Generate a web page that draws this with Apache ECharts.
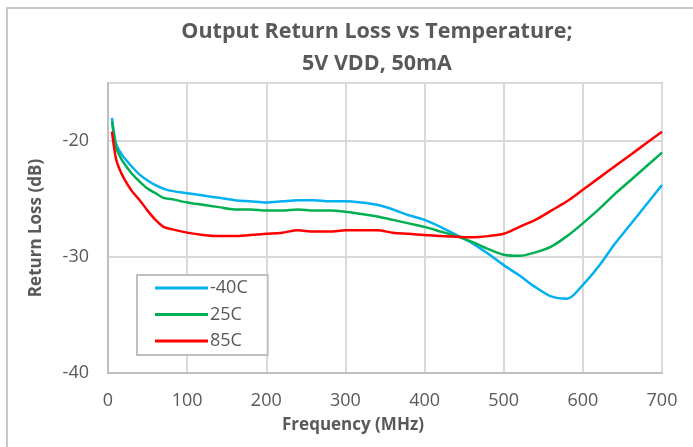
<!DOCTYPE html>
<html>
<head>
<meta charset="utf-8">
<script src="https://cdn.jsdelivr.net/npm/echarts@6/dist/echarts.min.js"></script>
<style>
  html, body { margin: 0; padding: 0; background: #fff; }
  #chart { width: 693px; height: 447px; }
</style>
</head>
<body>
<div id="chart"></div>
<script>
// Frequency sweep points (MHz)
const freqMHz = [5, 10, 15, 20, 30, 40, 50, 60, 70, 80, 100, 120, 140, 160, 180, 200,
  220, 240, 260, 280, 300, 320, 340, 360, 380, 400, 420, 440, 460, 480, 500,
  520, 540, 560, 580, 600, 620, 640, 660, 680, 700];

// Output return loss (dB) per temperature
const rlMinus40C = [-18.0, -20.2, -20.9, -21.4, -22.2, -22.9, -23.4, -23.8, -24.1, -24.3, -24.5,
  -24.7, -24.9, -25.1, -25.2, -25.3, -25.2, -25.1, -25.1, -25.2, -25.2,
  -25.3, -25.5, -25.9, -26.4, -26.8, -27.4, -28.1, -28.8, -29.7, -30.7,
  -31.6, -32.6, -33.4, -33.6, -32.4, -30.8, -28.9, -27.2, -25.5, -23.8];
const rl25C = [-18.3, -20.5, -21.3, -21.9, -22.8, -23.5, -24.1, -24.5, -24.9, -25.0, -25.3,
  -25.5, -25.7, -25.9, -25.9, -26.0, -26.0, -25.9, -26.0, -26.0, -26.1,
  -26.3, -26.5, -26.8, -27.1, -27.4, -27.8, -28.2, -28.7, -29.3, -29.8,
  -29.9, -29.6, -29.1, -28.2, -27.1, -25.9, -24.6, -23.4, -22.2, -21.0];
const rl85C = [-19.2, -21.5, -22.5, -23.2, -24.3, -25.1, -26.0, -26.8, -27.4, -27.6, -27.9,
  -28.1, -28.2, -28.2, -28.1, -28.0, -27.9, -27.7, -27.8, -27.8, -27.7,
  -27.7, -27.7, -27.9, -28.0, -28.1, -28.2, -28.25, -28.3, -28.2, -28.0,
  -27.4, -26.8, -26.0, -25.2, -24.2, -23.2, -22.2, -21.2, -20.2, -19.2];

const seriesNames = ['-40C', '25C', '85C'];
const seriesColors = ['#00b0f0', '#00b050', '#ff0000'];
const seriesValues = [rlMinus40C, rl25C, rl85C];

const titleLines = ['Output Return Loss vs Temperature;', '5V VDD, 50mA'];

const FONT = '"Open Sans", "Liberation Sans", sans-serif';
const GREY = '#595959';

const chart = echarts.init(document.getElementById('chart'), null, { renderer: 'canvas' });

chart.setOption({
  animation: false,
  backgroundColor: '#ffffff',
  title: {
    text: titleLines.join('\n'),
    left: 372,
    top: 11,
    textAlign: 'center',
    textStyle: {
      fontFamily: FONT,
      fontSize: 21.5,
      fontWeight: 'bold',
      color: GREY,
      lineHeight: 32
    }
  },
  graphic: [{
    type: 'rect',
    shape: { x: 7, y: 8, width: 720, height: 460 },
    style: { fill: 'none', stroke: '#c8c8c8', lineWidth: 2 },
    silent: true,
    z: -1
  }],
  legend: {
    orient: 'vertical',
    left: 137,
    top: 275,
    padding: [2, 20, 3, 18],
    icon: 'rect',
    itemWidth: 53,
    itemHeight: 3,
    itemGap: 4.5,
    borderColor: '#bfbfbf',
    borderWidth: 2,
    backgroundColor: '#ffffff',
    textStyle: { fontFamily: FONT, fontSize: 18, lineHeight: 22, color: GREY, padding: [0, 0, 0, -3] },
    data: seriesNames
  },
  grid: {
    left: 108,
    right: 31,
    top: 83,
    bottom: 74,
    show: true,
    borderColor: '#bfbfbf',
    borderWidth: 2
  },
  xAxis: {
    type: 'value',
    min: 0,
    max: 700,
    interval: 100,
    name: 'Frequency (MHz)',
    nameLocation: 'middle',
    nameGap: 44,
    nameTextStyle: { fontFamily: FONT, fontSize: 17, fontWeight: 'bold', color: GREY, padding: [0, 0, 0, -64] },
    axisLine: { show: true, lineStyle: { color: '#bfbfbf', width: 2 } },
    axisTick: { show: false },
    axisLabel: { fontFamily: FONT, fontSize: 18, color: GREY, margin: 19 },
    splitLine: { show: true, lineStyle: { color: '#d9d9d9', width: 2 } }
  },
  yAxis: {
    type: 'value',
    min: -40,
    max: -15,
    interval: 10,
    name: 'Return Loss (dB)',
    nameLocation: 'middle',
    nameGap: 63,
    nameTextStyle: { fontFamily: FONT, fontSize: 17, fontWeight: 'bold', color: GREY },
    axisLine: { show: true, lineStyle: { color: '#bfbfbf', width: 2 } },
    axisTick: { show: false },
    axisLabel: { fontFamily: FONT, fontSize: 18, color: GREY, margin: 19, showMaxLabel: false },
    splitLine: { show: true, lineStyle: { color: '#d9d9d9', width: 2 } }
  },
  series: seriesNames.map((name, i) => ({
    name: name,
    type: 'line',
    data: freqMHz.map((f, k) => [f, seriesValues[i][k]]),
    smooth: 0.3,
    symbol: 'none',
    lineStyle: { color: seriesColors[i], width: 2.5 },
    itemStyle: { color: seriesColors[i] }
  }))
});
</script>
</body>
</html>
